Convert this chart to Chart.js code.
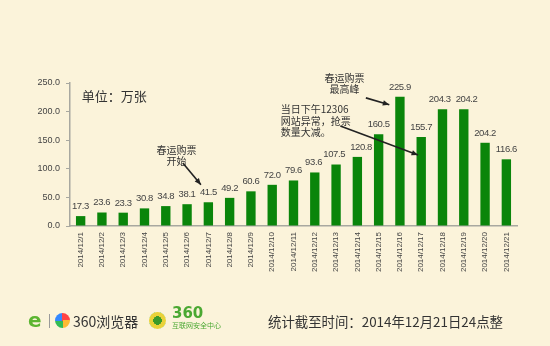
<!DOCTYPE html>
<html><head><meta charset="utf-8">
<script src="https://cdn.jsdelivr.net/npm/chart.js@4/dist/chart.umd.min.js"></script>
<style>
html,body{margin:0;padding:0;background:#FBF3DA;}
#wrap{position:relative;width:550px;height:346px;overflow:hidden;background:#FBF3DA;}
canvas{position:absolute;left:0;top:0;}
.ft{position:absolute;font-family:"Noto Sans CJK SC","Noto Sans",sans-serif;white-space:nowrap;}
</style></head>
<body><div id="wrap"><canvas id="c" width="550" height="346"></canvas>
<div class="ft" style="left:28px;top:311px;width:16px;height:18px;font:bold 20px 'DejaVu Sans';color:#5CB531;line-height:18px;">e</div>
<div class="ft" style="left:49px;top:314px;width:1px;height:14px;background:#9a9a9a;"></div>
<div class="ft" style="left:55px;top:313px;width:15px;height:15px;border-radius:50%;background:conic-gradient(#f44 0 25%,#fb3 0 50%,#3b5 0 75%,#38f 0);"></div>
<div class="ft" style="left:73px;top:311px;font-size:14px;color:#333;line-height:20px;">360浏览器</div>
<div class="ft" style="left:149px;top:312px;width:17px;height:17px;border-radius:50%;background:radial-gradient(circle,#3a9a2a 0 35%,#e9d23a 36% 70%,#7cc44a 71%);"></div>
<div class="ft" style="left:172px;top:304px;font:bold 15px 'DejaVu Sans';color:#4aa832;line-height:18px;">360</div>
<div class="ft" style="left:172px;top:321px;font-size:7px;color:#4aa832;line-height:9px;">互联网安全中心</div>
<div class="ft" style="left:268px;top:311px;font-size:13.4px;color:#333;line-height:20px;">统计截至时间：2014年12月21日24点整</div>
</div>
<script>
const categories = ["2014/12/1","2014/12/2","2014/12/3","2014/12/4","2014/12/5","2014/12/6","2014/12/7","2014/12/8","2014/12/9","2014/12/10","2014/12/11","2014/12/12","2014/12/13","2014/12/14","2014/12/15","2014/12/16","2014/12/17","2014/12/18","2014/12/19","2014/12/20","2014/12/21"];
const values = [17.3,23.6,23.3,30.8,34.8,38.1,41.5,49.2,60.6,72.0,79.6,93.6,107.5,120.8,160.5,225.9,155.7,204.3,204.2,145.5,116.6];
const valueLabels = ["17.3","23.6","23.3","30.8","34.8","38.1","41.5","49.2","60.6","72.0","79.6","93.6","107.5","120.8","160.5","225.9","155.7","204.3","204.2","204.2","116.6"];
const yTicks = [0,50,100,150,200,250];
const unitText = "单位：万张";
const notes = [
  {lines:["春运购票","开始"], at:[4.5,133], align:"center", arrowFrom:[4.8,110], arrowTo:[5.65,72]},
  {lines:["春运购票","最高峰"], at:[12.4,259], align:"center", arrowFrom:[13.4,224], arrowTo:[14.5,212]},
  {lines:["当日下午12306","网站异常，抢票","数量大减。"], at:[9.4,204], align:"left", arrowFrom:[12.2,175], arrowTo:[15.85,124]}
];

const ctx = document.getElementById('c').getContext('2d');

const overlay = {
  id:'overlay',
  afterDatasetsDraw(chart){
    const c = chart.ctx, xs = chart.scales.x, ys = chart.scales.y;
    const meta = chart.getDatasetMeta(0);
    c.save();
    c.fillStyle = '#444';
    c.font = '9.5px "Liberation Sans", Arial, sans-serif';
    if ('letterSpacing' in c) c.letterSpacing = '-0.4px';
    c.textAlign = 'center'; c.textBaseline = 'bottom';
    // label boxes with simple collision avoidance between neighbours
    const boxes = meta.data.map((b,i)=>({x:b.x, y:b.y-5, w:c.measureText(valueLabels[i]).width}));
    for (let i=0;i<boxes.length-1;i++){
      const a = boxes[i], b = boxes[i+1];
      if (Math.abs(a.y-b.y) < 11){
        const overlap = (a.x + a.w/2 + 5) - (b.x - b.w/2);
        if (overlap > 0){ a.x -= overlap/2; b.x += overlap/2; }
      }
    }
    boxes.forEach((bx,i)=> c.fillText(valueLabels[i], bx.x, bx.y));
    if ('letterSpacing' in c) c.letterSpacing = '0px';
    c.font = '13px "Noto Sans CJK SC", sans-serif';
    c.fillStyle = '#333'; c.textAlign = 'left'; c.textBaseline = 'middle';
    c.fillText(unitText, xs.getPixelForValue(0) + 1, ys.getPixelForValue(228));
    const px = p => [xs.getPixelForValue(p[0]), ys.getPixelForValue(p[1])];
    c.font = '10px "Noto Sans CJK SC", sans-serif';
    notes.forEach(n=>{
      const [tx,ty] = px(n.at);
      c.textAlign = n.align;
      c.fillStyle = '#333';
      n.lines.forEach((l,k)=> c.fillText(l, tx, ty + k*11.5));
      const [ax,ay] = px(n.arrowFrom), [bx,by] = px(n.arrowTo);
      c.strokeStyle = '#222'; c.lineWidth = 1.6;
      c.beginPath(); c.moveTo(ax,ay); c.lineTo(bx,by); c.stroke();
      const ang = Math.atan2(by-ay,bx-ax), L = 7;
      c.fillStyle = '#222';
      c.beginPath(); c.moveTo(bx,by);
      c.lineTo(bx - L*Math.cos(ang-0.4), by - L*Math.sin(ang-0.4));
      c.lineTo(bx - L*Math.cos(ang+0.4), by - L*Math.sin(ang+0.4));
      c.closePath(); c.fill();
    });
    c.restore();
  }
};

new Chart(ctx, {
  type:'bar',
  data:{labels:categories, datasets:[{data:values,
    backgroundColor:(cx)=>{
      const el = cx.element; const ch = cx.chart;
      if(!el || !Number.isFinite(el.x)) return '#0A850A';
      const w = 9, x0 = el.x - w/2;
      const g = ch.ctx.createLinearGradient(x0,0,x0+w,0);
      g.addColorStop(0,'#005F00'); g.addColorStop(0.5,'#109410'); g.addColorStop(1,'#005F00');
      return g;
    },
    borderWidth:0, barPercentage:0.44, categoryPercentage:1}]},
  options:{
    responsive:false, animation:false,
    layout:{padding:{left:0,right:33,top:83,bottom:0}},
    plugins:{legend:{display:false}, tooltip:{enabled:false}},
    scales:{
      x:{grid:{display:false, drawTicks:false}, border:{color:'#A8A8A0',width:1.5},
        ticks:{autoSkip:false, minRotation:90, maxRotation:90, padding:6, color:'#444',
          font:{size:8, family:'"Liberation Sans", Arial, sans-serif'}},
        afterFit(s){ s.height = 120; }},
      y:{min:0,max:250, afterBuildTicks(s){ s.ticks = yTicks.map(v=>({value:v})); },
        grid:{display:true, drawOnChartArea:false, drawTicks:true, tickLength:4, color:'#A8A8A0'},
        border:{color:'#A8A8A0',width:1.5},
        ticks:{padding:6, color:'#444', font:{size:9, family:'"Liberation Sans", Arial, sans-serif'},
          callback:v=>Number(v).toFixed(1)},
        afterFit(s){ s.width = 70; }}
    }
  },
  plugins:[overlay]
});
</script></body></html>
